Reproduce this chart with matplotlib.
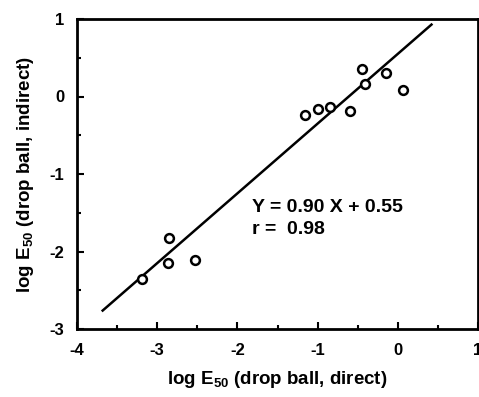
import matplotlib
matplotlib.use("Agg")
import matplotlib.pyplot as plt
import numpy as np

# log E50 values
direct = [-3.19, -2.87, -2.85, -2.53, -1.16, -1.00, -0.85, -0.60, -0.45, -0.41, -0.15, 0.06]
indirect = [-2.36, -2.15, -1.83, -2.11, -0.24, -0.16, -0.13, -0.19, 0.36, 0.16, 0.30, 0.08]
slope = 0.90
intercept = 0.55
fit_range = [-3.68, 0.42]

plt.rcParams['font.family'] = ['Liberation Sans', 'DejaVu Sans']
plt.rcParams['font.weight'] = 'bold'
plt.rcParams['axes.unicode_minus'] = False
plt.rcParams['mathtext.fontset'] = 'custom'
plt.rcParams['mathtext.rm'] = 'Liberation Sans:bold'
plt.rcParams['mathtext.default'] = 'rm'

fig = plt.figure(figsize=(4.79, 3.97), dpi=100)
ax = fig.add_axes([77/479, 68/397, 401/479, 310/397])

xf = np.array(fit_range)
ax.plot(xf, slope*xf + intercept, color='black', lw=1.8)
ax.scatter(direct, indirect, s=40, facecolor='white', edgecolor='black', linewidths=1.8, zorder=3)

ax.text(-1.82, -1.43, "Y = 0.90 X + 0.55", fontsize=14, fontweight='bold', va='center')
ax.text(-1.82, -1.71, "r =  0.98", fontsize=14, fontweight='bold', va='center')

ax.set_xlim(-4, 1)
ax.set_ylim(-3, 1)
ax.set_xticks([-4, -3, -2, -1, 0, 1])
ax.set_yticks([-3, -2, -1, 0, 1])
ax.set_xticks(np.arange(-3.5, 1, 1), minor=True)
ax.set_yticks(np.arange(-2.5, 1, 1), minor=True)
ax.tick_params(which='both', direction='in', width=1.5, labelsize=12)
ax.tick_params(which='major', length=5)
ax.tick_params(which='minor', length=3)
ax.tick_params(axis='x', pad=10)
ax.tick_params(axis='y', pad=9)
for sp in ax.spines.values():
    sp.set_linewidth(2)

ax.set_xlabel("log E$_{50}$ (drop ball, direct)", fontsize=13.5, fontweight='bold', labelpad=8)
ax.set_ylabel("log E$_{50}$ (drop ball, indirect)", fontsize=13.5, fontweight='bold', labelpad=10)

fig.savefig("out.png", dpi=100)
